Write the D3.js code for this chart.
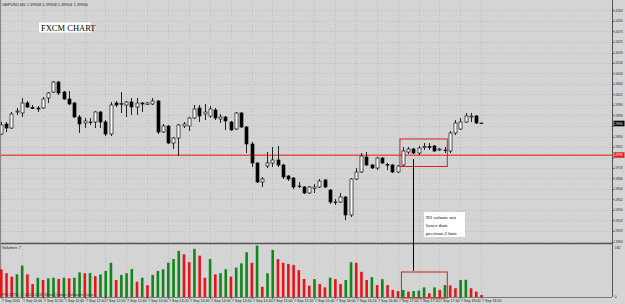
<!DOCTYPE html>
<html>
<head>
<meta charset="utf-8">
<script src="https://cdn.jsdelivr.net/npm/d3@7"></script>
<style>
  body { margin: 0; background: #d4d4d4; }
  svg { display: block; }
  text { font-family: "Liberation Sans", Arial, sans-serif; }
</style>
</head>
<body>
<svg id="chart" width="625" height="304"></svg>
<script>
// GBPUSD M5 bars, 7 Sep 2011 10:40 .. 18:20
const opens = [1.39864,1.39904,1.39888,1.39952,1.39948,1.39988,1.39970,1.39968,1.39968,1.40008,
  1.40032,1.40072,1.40032,1.40004,1.39988,1.39932,1.39908,1.39912,1.39912,1.39952,
  1.39912,1.39864,1.39988,1.39982,1.39980,1.39992,1.39972,1.39988,1.39982,1.39984,
  1.39996,1.39872,1.39896,1.39828,1.39848,1.39896,1.39896,1.39928,1.39968,1.39944,
  1.39936,1.39960,1.39924,1.39932,1.39912,1.39884,1.39948,1.39892,1.39824,1.39748,
  1.39672,1.39736,1.39748,1.39760,1.39740,1.39696,1.39688,1.39656,1.39652,1.39628,
  1.39646,1.39652,1.39680,1.39640,1.39592,1.39592,1.39612,1.39540,1.39684,1.39712,
  1.39772,1.39740,1.39728,1.39768,1.39742,1.39740,1.39712,1.39740,1.39792,1.39804,
  1.39788,1.39810,1.39814,1.39816,1.39800,1.39800,1.39796,1.39868,1.39884,1.39912,
  1.39932,1.39936,1.39908]
const highs = [1.39912,1.39912,1.39952,1.39968,1.40008,1.39996,1.39980,1.39976,1.40012,1.40032,
  1.40076,1.40076,1.40036,1.40036,1.39992,1.39940,1.39928,1.39928,1.39956,1.39956,
  1.39920,1.39992,1.39996,1.40032,1.39996,1.40008,1.40008,1.39992,1.39992,1.40008,
  1.40000,1.39904,1.39900,1.39852,1.39904,1.39912,1.39932,1.39980,1.39980,1.39984,
  1.39976,1.39968,1.39944,1.39936,1.39916,1.39952,1.39952,1.39896,1.39832,1.39752,
  1.39692,1.39792,1.39812,1.39816,1.39744,1.39700,1.39692,1.39672,1.39656,1.39656,
  1.39664,1.39684,1.39684,1.39644,1.39604,1.39628,1.39616,1.39688,1.39728,1.39788,
  1.39792,1.39744,1.39772,1.39772,1.39748,1.39744,1.39740,1.39812,1.39812,1.39808,
  1.39816,1.39828,1.39828,1.39820,1.39808,1.39812,1.39876,1.39920,1.39928,1.39948,
  1.39948,1.39940,1.39908]
const lows = [1.39860,1.39872,1.39884,1.39940,1.39932,1.39968,1.39964,1.39952,1.39964,1.39988,
  1.40028,1.40020,1.40000,1.39980,1.39928,1.39868,1.39888,1.39900,1.39888,1.39888,
  1.39856,1.39856,1.39972,1.39948,1.39932,1.39940,1.39940,1.39952,1.39980,1.39980,
  1.39864,1.39868,1.39824,1.39804,1.39776,1.39888,1.39876,1.39924,1.39912,1.39920,
  1.39928,1.39920,1.39908,1.39880,1.39876,1.39880,1.39888,1.39788,1.39732,1.39668,
  1.39652,1.39728,1.39732,1.39732,1.39684,1.39676,1.39644,1.39648,1.39624,1.39624,
  1.39628,1.39648,1.39648,1.39584,1.39580,1.39588,1.39520,1.39532,1.39680,1.39708,
  1.39736,1.39724,1.39720,1.39744,1.39720,1.39708,1.39708,1.39736,1.39784,1.39784,
  1.39780,1.39800,1.39800,1.39792,1.39796,1.39788,1.39788,1.39860,1.39880,1.39908,
  1.39912,1.39904,1.39904]
const closes = [1.39900,1.39888,1.39944,1.39956,1.39988,1.39972,1.39966,1.39964,1.40004,1.40028,
  1.40072,1.40028,1.40004,1.39984,1.39932,1.39904,1.39916,1.39910,1.39952,1.39912,
  1.39864,1.39980,1.39980,1.39986,1.39992,1.39972,1.39988,1.39984,1.39988,1.39996,
  1.39872,1.39896,1.39828,1.39848,1.39900,1.39904,1.39928,1.39964,1.39936,1.39952,
  1.39964,1.39928,1.39932,1.39916,1.39880,1.39948,1.39892,1.39824,1.39748,1.39672,
  1.39684,1.39748,1.39760,1.39740,1.39692,1.39684,1.39652,1.39654,1.39628,1.39652,
  1.39652,1.39676,1.39652,1.39592,1.39590,1.39612,1.39540,1.39684,1.39712,1.39776,
  1.39740,1.39728,1.39768,1.39748,1.39740,1.39712,1.39736,1.39796,1.39804,1.39788,
  1.39808,1.39814,1.39810,1.39796,1.39804,1.39798,1.39868,1.39908,1.39912,1.39936,
  1.39936,1.39908,1.39906]
const volumes = [98,84,72,80,111,80,46,68,60,66, 68,64,68,66,68,87,84,85,74,80,
  92,121,60,78,84,99,54,68,42,78, 92,98,121,134,163,151,123,170,146,68,
  134,80,84,98,72,104,119,158,121,182, 36,84,166,134,121,117,113,95,64,40,
  63,46,34,68,63,46,60,123,121,89, 60,70,42,63,42,25,21,25,19,21,
  23,34,13,34,25,42,41,31,60,61, 31,19,7]

// one time label every 4 bars
const timeLabels = ["7 Sep 2011","7 Sep 11:00","7 Sep 11:20","7 Sep 11:40","7 Sep 12:00","7 Sep 12:20",
  "7 Sep 12:40","7 Sep 13:00","7 Sep 13:20","7 Sep 13:40","7 Sep 14:00","7 Sep 14:20","7 Sep 14:40",
  "7 Sep 15:00","7 Sep 15:20","7 Sep 15:40","7 Sep 16:00","7 Sep 16:20","7 Sep 16:40","7 Sep 17:00",
  "7 Sep 17:20","7 Sep 17:40","7 Sep 18:00","7 Sep 18:20"]
const priceTicks = [1.40358,1.40316,1.40274,1.40232,1.40190,1.40148,1.40106,1.40064,1.40022,1.39980,
  1.39938,1.39896,1.39854,1.39812,1.39770,1.39728,1.39686,1.39644,1.39602,1.39560,1.39518,1.39476,1.39434]
const redLevel = 1.39780
const volMax = 182

const W = 625, H = 304
const axisX = 612     // right price axis
const mainBottom = 243
const volBottom = 297

const svg = d3.select("#chart")

const x = d3.scaleLinear().domain([0, 117]).range([1, 611.7])
const y = d3.scaleLinear().domain([1.39428, 1.404]).range([mainBottom, 0])
const yv = d3.scaleLinear().domain([0, volMax]).range([volBottom, 245.5])

const bars = d3.range(opens.length).map(i => ({
    i, o: opens[i], h: highs[i], l: lows[i], c: closes[i], v: volumes[i]
}))
const last = bars[bars.length - 1]
const fmt = d3.format(".5f")

//tiny terminal text: drawn at 4x size then scaled down so no minimum font size kicks in
//fitW (optional) squeezes the text to that width in pixels
function tinyText(parent, tx, ty, str, size, fill, fitW){
    const t = parent.append("text")
        .attr("transform", `translate(${tx},${ty}) scale(0.25)`)
        .attr("font-size", size*4)
        .attr("fill", fill || "#222")
        .text(str)
    if (fitW) t.attr("textLength", fitW*4).attr("lengthAdjust", "spacingAndGlyphs")
    return t
}

svg.append("rect").attr("width", W).attr("height", H).attr("fill", "#d4d4d4")

//grid
const gridG = svg.append("g").attr("stroke", "#bcbcbc").attr("stroke-dasharray", "1,2").attr("stroke-width", 1)
timeLabels.forEach((t, k) => {
    const gx = Math.round(x(k*4)) + 0.5
    gridG.append("line").attr("x1", gx).attr("x2", gx).attr("y1", 0).attr("y2", volBottom)
})
priceTicks.forEach(p => {
    const gy = Math.round(y(p)) + 0.5
    gridG.append("line").attr("x1", 0).attr("x2", axisX).attr("y1", gy).attr("y2", gy)
})

//horizontal red level
const redY = Math.round(y(redLevel))
svg.append("rect")
    .attr("x", 0).attr("y", redY - 0.5).attr("width", axisX).attr("height", 1.5)
    .attr("fill", "#e65050")

//candles
const candles = svg.append("g")
candles.selectAll("line.wick").data(bars).join("line")
    .attr("class", "wick")
    .attr("x1", d => Math.round(x(d.i)) + 0.5).attr("x2", d => Math.round(x(d.i)) + 0.5)
    .attr("y1", d => y(d.h)).attr("y2", d => y(d.l))
    .attr("stroke", "#222").attr("stroke-width", 1)
candles.selectAll("rect.body").data(bars).join("rect")
    .attr("class", "body")
    .attr("x", d => Math.round(x(d.i)) - 1)
    .attr("y", d => y(Math.max(d.o, d.c)))
    .attr("width", 3)
    .attr("height", d => Math.max(0.6, Math.abs(y(d.o) - y(d.c))))
    .attr("fill", d => d.c >= d.o ? "#ffffff" : "#000000")
    .attr("stroke", "#111").attr("stroke-width", 0.7)

//pane separators
svg.append("line").attr("x1", 0).attr("x2", axisX).attr("y1", 243.5).attr("y2", 243.5)
    .attr("stroke", "#555").attr("stroke-width", 1.5)
svg.append("line").attr("x1", 0).attr("x2", axisX).attr("y1", volBottom + 0.5).attr("y2", volBottom + 0.5)
    .attr("stroke", "#777").attr("stroke-width", 1)
svg.append("line").attr("x1", axisX + 0.5).attr("x2", axisX + 0.5).attr("y1", 0).attr("y2", volBottom)
    .attr("stroke", "#555").attr("stroke-width", 1)
svg.append("line").attr("x1", 0.5).attr("x2", 0.5).attr("y1", 0).attr("y2", volBottom)
    .attr("stroke", "#888").attr("stroke-width", 1)

//volumes: green when above previous bar, red otherwise
svg.append("g").selectAll("rect").data(bars).join("rect")
    .attr("x", d => x(d.i) - 1)
    .attr("y", d => yv(d.v))
    .attr("width", 2.6)
    .attr("height", d => volBottom - yv(d.v))
    .attr("fill", (d, i) => (i > 0 && d.v > volumes[i-1]) ? "#11861a" : "#e8141c")

//price axis labels, right aligned (those under the price tags are hidden, as in the terminal)
const axisFont = 3.3
const labelW = 8.8
const labelR = 622.6
const axisG = svg.append("g")
priceTicks.forEach(p => {
    axisG.append("line").attr("x1", axisX).attr("x2", axisX + 2)
        .attr("y1", Math.round(y(p)) + 0.5).attr("y2", Math.round(y(p)) + 0.5)
        .attr("stroke", "#333").attr("stroke-width", 0.6)
    if (Math.abs(y(p) - y(last.c)) < 4 || Math.abs(y(p) - y(redLevel)) < 4) return
    tinyText(axisG, labelR, y(p) + 1.2, fmt(p), axisFont, "#222", labelW).attr("text-anchor", "end")
})

//current bid and red level tags
svg.append("rect").attr("x", axisX + 1.5).attr("y", y(last.c) - 2.8).attr("width", 11).attr("height", 5.6).attr("fill", "#000")
tinyText(svg, labelR, y(last.c) + 1.2, fmt(last.c), axisFont, "#fff", labelW).attr("text-anchor", "end")
svg.append("rect").attr("x", axisX + 1.5).attr("y", y(redLevel) - 2.8).attr("width", 11).attr("height", 5.6).attr("fill", "#e02020")
tinyText(svg, labelR, y(redLevel) + 1.2, fmt(redLevel), axisFont, "#fff", labelW).attr("text-anchor", "end")

//volume axis labels
tinyText(svg, axisX + 2.8, 248.5, String(volMax), axisFont)
tinyText(svg, axisX + 2.8, 297.5, "0", axisFont)

//time axis
const timeG = svg.append("g")
timeLabels.forEach((t, k) => {
    const tx = Math.round(x(k*4))
    timeG.append("line").attr("x1", tx + 0.5).attr("x2", tx + 0.5).attr("y1", volBottom).attr("y2", volBottom + 2)
        .attr("stroke", "#333").attr("stroke-width", 0.6)
    tinyText(timeG, tx + 1, 302, t, 3.6)
})

//header / pane titles
tinyText(svg, 2, 5.5, `GBPUSD,M5  ${fmt(last.o)} ${fmt(last.h)} ${fmt(last.l)} ${fmt(last.c)}`, 4)
tinyText(svg, 2, 249, `Volumes ${last.v}`, 4)
tinyText(svg, 2, 295.5, "FXCMTS, \u00a9 2001-2011 MetaQuotes Software Corp.", 4, "#333")

//FXCM CHART label
svg.append("rect").attr("x", 39).attr("y", 22.5).attr("width", 52).attr("height", 10).attr("fill", "#fff")
svg.append("text").attr("x", 41).attr("y", 30.5).attr("font-size", 8.5)
    .style("font-family", "'Liberation Serif', 'DejaVu Serif', serif").attr("fill", "#000").text("FXCM CHART")

//annotation: boxes around bars 77..85
const boxL = x(77) - 3, boxR = x(86) - 2.6
svg.append("rect").attr("x", boxL).attr("y", y(highs[80]) - 7).attr("width", boxR - boxL)
    .attr("height", 27.5).attr("fill", "none").attr("stroke", "#d02020").attr("stroke-width", 1)
svg.append("rect").attr("x", boxL + 1.5).attr("y", 272).attr("width", boxR - boxL - 1.5)
    .attr("height", volBottom - 272 + 1).attr("fill", "none").attr("stroke", "#d02020").attr("stroke-width", 1)
svg.append("line").attr("x1", Math.round(x(79)) + 0.5).attr("x2", Math.round(x(79)) + 0.5)
    .attr("y1", y(lows[79]) + 5).attr("y2", 271).attr("stroke", "#000").attr("stroke-width", 1)

const noteG = svg.append("g")
noteG.append("rect").attr("x", 424).attr("y", 212).attr("width", 41).attr("height", 25).attr("fill", "#fff")
const note = ["N3 volume not", "lower than", "previous 2 bars"]
note.forEach((t, k) => {
    tinyText(noteG, 426, 218.5 + k*8, t, 5, "#000")
        .style("font-family", "'Liberation Serif', 'DejaVu Serif', serif")
})
</script>
</body>
</html>
